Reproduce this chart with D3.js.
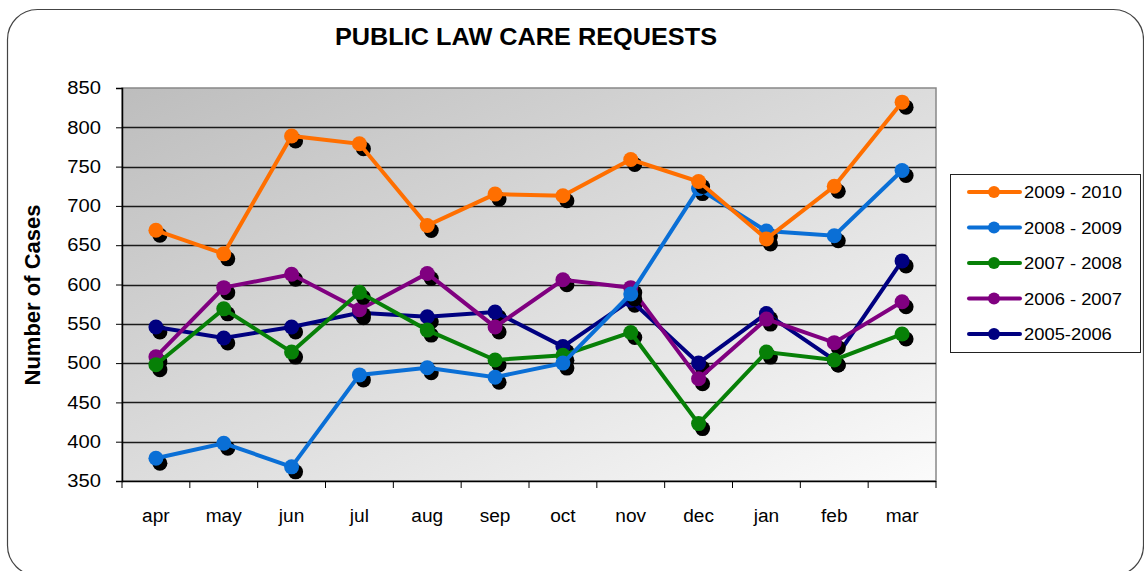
<!DOCTYPE html>
<html>
<head>
<meta charset="utf-8">
<script src="https://cdn.jsdelivr.net/npm/d3@7"></script>
<style>
  body { margin: 0; background: #fff; }
  svg { display: block; font-family: "Liberation Sans", Arial, sans-serif; }
</style>
</head>
<body>
<svg id="chart" width="1144" height="571"></svg>
<script>
const months = ['apr', 'may', 'jun', 'jul', 'aug', 'sep', 'oct', 'nov', 'dec', 'jan', 'feb', 'mar'];
const yTicks = [350, 400, 450, 500, 550, 600, 650, 700, 750, 800, 850];

const s2009 = [669, 639, 789, 779, 675, 715, 713, 759, 731, 658, 725, 832];
const s2008 = [379, 398, 368, 485, 494, 482, 500, 588, 722, 668, 662, 745];
const s2007 = [498, 569, 514, 590, 542, 504, 510, 539, 423, 514, 504, 537];
const s2006 = [508, 596, 613, 568, 614, 546, 606, 596, 480, 556, 526, 578];
const s2005 = [546, 532, 546, 564, 559, 565, 521, 580, 500, 563, 504, 630];

const seriesNames = ['2009 - 2010', '2008 - 2009', '2007 - 2008', '2006 - 2007', '2005-2006'];
const seriesColors = ['#ff6f00', '#0a6fd6', '#078007', '#800080', '#000080'];

const series = [s2009, s2008, s2007, s2006, s2005].map((vals, i) => ({
  name: seriesNames[i],
  color: seriesColors[i],
  values: vals
}));

const svg = d3.select('#chart');
const plotLeft = 122, plotRight = 936, plotTop = 88, plotBottom = 481;

// the source picture is a bit wider than normal Arial, so stretch text sideways
const stretch = (sel, k) => {
  sel.each(function () {
    let w = this.getComputedTextLength();
    d3.select(this).attr('textLength', w * k).attr('lengthAdjust', 'spacingAndGlyphs');
  });
};

// outer rounded frame
svg.append('rect')
  .attr('x', 7.5).attr('y', 9.5)
  .attr('width', 1136).attr('height', 566)
  .attr('rx', 30).attr('ry', 30)
  .attr('fill', '#fff')
  .attr('stroke', '#444').attr('stroke-width', 1.2);

const defs = svg.append('defs');
const grad = defs.append('linearGradient')
  .attr('id', 'plotBg')
  .attr('x1', '0%').attr('y1', '0%')
  .attr('x2', '100%').attr('y2', '100%');
grad.append('stop').attr('offset', '0%').attr('stop-color', '#bdbdbd');
grad.append('stop').attr('offset', '100%').attr('stop-color', '#fbfbfb');

svg.append('text')
  .attr('x', 526).attr('y', 45)
  .attr('text-anchor', 'middle')
  .attr('font-size', 23).attr('font-weight', 'bold')
  .text('PUBLIC LAW CARE REQUESTS')
  .attr('textLength', 382).attr('lengthAdjust', 'spacingAndGlyphs');

const x = d3.scaleBand().domain(months).range([plotLeft, plotRight]);
const y = d3.scaleLinear().domain([350, 850]).range([plotBottom, plotTop]);

svg.append('rect')
  .attr('x', plotLeft).attr('y', plotTop)
  .attr('width', plotRight - plotLeft).attr('height', plotBottom - plotTop)
  .attr('fill', 'url(#plotBg)')
  .attr('stroke', '#888').attr('stroke-width', 1.5);

// gridlines
svg.append('g')
  .selectAll('line')
  .data(yTicks.filter(t => t > 350 && t < 850))
  .enter()
  .append('line')
  .attr('x1', plotLeft).attr('x2', plotRight)
  .attr('y1', d => Math.round(y(d)) + 0.5)
  .attr('y2', d => Math.round(y(d)) + 0.5)
  .attr('stroke', '#1a1a1a').attr('stroke-width', 1.3);

// y axis
const yAxis = svg.append('g')
  .attr('transform', `translate(${plotLeft},0)`)
  .call(d3.axisLeft(y).tickValues(yTicks).tickSize(6).tickPadding(15));
yAxis.select('.domain').attr('stroke', '#000').attr('stroke-width', 1.5);
yAxis.selectAll('text').attr('font-size', 18).attr('fill', '#000')
  .attr('font-family', '"Liberation Sans", Arial, sans-serif')
  .call(stretch, 1.12);

// x axis (ticks at band boundaries)
const xAxis = svg.append('g').attr('transform', `translate(0,${plotBottom})`);
xAxis.append('line')
  .attr('x1', plotLeft).attr('x2', plotRight)
  .attr('y1', 0.5).attr('y2', 0.5)
  .attr('stroke', '#000').attr('stroke-width', 1.5);
xAxis.selectAll('.xtick')
  .data(months.concat(['end']))
  .enter()
  .append('line')
  .attr('x1', (d, i) => plotLeft + i * x.bandwidth())
  .attr('x2', (d, i) => plotLeft + i * x.bandwidth())
  .attr('y1', 0).attr('y2', 7)
  .attr('stroke', '#000').attr('stroke-width', 1);
xAxis.selectAll('.xlabel')
  .data(months)
  .enter()
  .append('text')
  .attr('x', d => x(d) + x.bandwidth() / 2)
  .attr('y', 41)
  .attr('text-anchor', 'middle')
  .attr('font-size', 18)
  .text(d => d)
  .call(stretch, 1.06);

svg.append('text')
  .attr('transform', 'translate(40,295) rotate(-90)')
  .attr('text-anchor', 'middle')
  .attr('font-size', 22).attr('font-weight', 'bold')
  .text('Number of Cases');

const cx = (d, i) => x(months[i]) + x.bandwidth() / 2;
const line = d3.line().x(cx).y(d => y(d));

const plot = svg.append('g');
for (let i = series.length - 1; i >= 0; i--) {
  const s = series[i];
  const g = plot.append('g');
  g.selectAll('.shadow')
    .data(s.values)
    .enter()
    .append('circle')
    .attr('cx', (d, j) => cx(d, j) + 4)
    .attr('cy', d => y(d) + 5)
    .attr('r', 7.5)
    .attr('fill', '#000');
  g.append('path')
    .attr('d', line(s.values))
    .attr('fill', 'none')
    .attr('stroke', s.color)
    .attr('stroke-width', 4);
  g.selectAll('.dot')
    .data(s.values)
    .enter()
    .append('circle')
    .attr('cx', cx)
    .attr('cy', d => y(d))
    .attr('r', 7.5)
    .attr('fill', s.color);
}

// legend
const legend = svg.append('g');
legend.append('rect')
  .attr('x', 950.5).attr('y', 174.5)
  .attr('width', 190).attr('height', 178)
  .attr('fill', '#fff')
  .attr('stroke', '#222').attr('stroke-width', 1);
series.forEach((s, i) => {
  const ly = 192 + i * 35.5;
  legend.append('line')
    .attr('x1', 969).attr('x2', 1020)
    .attr('y1', ly).attr('y2', ly)
    .attr('stroke', s.color).attr('stroke-width', 4)
    .attr('stroke-linecap', 'round');
  legend.append('circle')
    .attr('cx', 994).attr('cy', ly).attr('r', 6)
    .attr('fill', s.color);
  legend.append('text')
    .attr('x', 1024).attr('y', ly + 6)
    .attr('font-size', 17)
    .text(s.name)
    .call(stretch, 1.08);
});
</script>
</body>
</html>
